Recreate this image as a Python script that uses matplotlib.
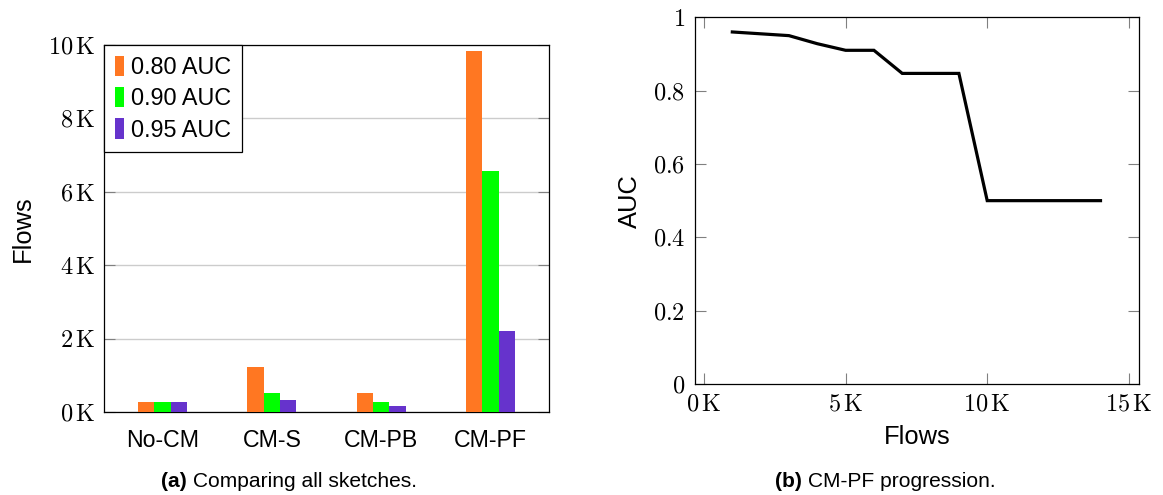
import numpy as np
import matplotlib
matplotlib.use('Agg')
import matplotlib.pyplot as plt

## Plotting canvas properties.
params = {'font.family': 'Liberation Sans',
          'mathtext.fontset': 'cm',
          'axes.linewidth': 0.9,
          }
matplotlib.rcParams.update(params)

# (a) flows needed per sketch to reach each AUC level
categories = ['No-CM', 'CM-S', 'CM-PB', 'CM-PF']
auc80 = [270, 1220, 510, 9840]
auc90 = [270, 510, 260, 6570]
auc95 = [270, 320, 160, 2200]
series_labels = ['0.80 AUC', '0.90 AUC', '0.95 AUC']
bar_colors = ['#ff7722', '#00ff00', '#6633cc']
flow_ticks = [0, 2000, 4000, 6000, 8000, 10000]

# (b) CM-PF progression
prog_flows = [1000, 2000, 3000, 4000, 5000, 6000, 7000, 8000, 9000,
              10000, 11000, 12000, 13000, 14000]
prog_auc = [0.96, 0.955, 0.95, 0.928, 0.91, 0.91, 0.847, 0.847, 0.847,
            0.5, 0.5, 0.5, 0.5, 0.5]
auc_ticks = [0, 0.2, 0.4, 0.6, 0.8, 1]
prog_xticks = [0, 5000, 10000, 15000]

W, H = 1163, 495
fig = plt.figure(figsize=(W / 100, H / 100), dpi=100)

def px_axes(x0, y0, x1, y1):
    return fig.add_axes([x0 / W, 1 - y1 / H, (x1 - x0) / W, (y1 - y0) / H])

tick_grey = '#808080'

## Left: grouped bars
ax = px_axes(104.3, 45, 549, 412)
x = np.arange(len(categories))
w = 0.15
for i, (vals, lab, col) in enumerate(zip([auc80, auc90, auc95], series_labels, bar_colors)):
    ax.bar(x + (i - 1) * w, vals, w, color=col, label=lab, zorder=3)
ax.set_xlim(-0.532, 3.535)
ax.set_ylim(0, 10000)
ax.set_yticks(flow_ticks)
ax.set_yticklabels([r'$%d\,\mathrm{K}$' % (t // 1000) for t in flow_ticks])
ax.set_xticks(x)
ax.set_xticklabels(categories)
ax.yaxis.grid(True, color='#cccccc', linewidth=1.0, zorder=0)
ax.set_axisbelow(True)
ax.tick_params(axis='y', direction='in', length=8, width=0.8, color=tick_grey,
               right=True, labelsize=17.5, pad=6.5)
ax.tick_params(axis='x', length=0, labelsize=16.7, pad=12)
ax.set_ylabel('Flows', fontsize=18.4, va='center')
ax.yaxis.set_label_coords(-0.183, 0.5)
leg = ax.legend(loc='upper left', borderaxespad=0, fontsize=16.8, fancybox=False,
                edgecolor='black', framealpha=1, handlelength=0.39, handleheight=0.95,
                handletextpad=0.3, labelspacing=0.36, borderpad=0.45)
leg.get_frame().set_linewidth(0.9)

## Right: AUC vs flows
ax2 = px_axes(695, 17.3, 1139.3, 384)
ax2.plot(prog_flows, prog_auc, color='black', linewidth=2.3, solid_joinstyle='miter')
ax2.set_xlim(-318, 15370)
ax2.set_ylim(0, 1)
ax2.set_xticks(prog_xticks)
ax2.set_xticklabels([r'$%d\,\mathrm{K}$' % (t // 1000) for t in prog_xticks])
ax2.set_yticks(auc_ticks)
ax2.set_yticklabels([r'$%g$' % t for t in auc_ticks])
ax2.tick_params(direction='in', length=7.7, width=0.8, color=tick_grey,
                top=True, right=True, labelsize=17.5)
ax2.tick_params(axis='x', pad=7)
ax2.tick_params(axis='y', pad=7)
ax2.set_xlabel('Flows', fontsize=18.4)
ax2.xaxis.set_label_coords(0.5, -0.112)
ax2.set_ylabel('AUC', fontsize=18.4, va='center')
ax2.yaxis.set_label_coords(-0.146, 0.5)

## Captions
ya = 1 - 487 / H
t1 = fig.text(161 / W, ya, '(a)', fontsize=15.1, fontweight='bold', va='baseline')
ax.annotate(' Comparing all sketches.', xy=(1, 0), xycoords=t1, fontsize=15.1,
            va='bottom', ha='left', annotation_clip=False)
t2 = fig.text(775 / W, ya, '(b)', fontsize=15.1, fontweight='bold', va='baseline')
ax2.annotate(' CM-PF progression.', xy=(1, 0), xycoords=t2, fontsize=15.1,
             va='bottom', ha='left', annotation_clip=False)

plt.savefig('out.png', dpi=100)
